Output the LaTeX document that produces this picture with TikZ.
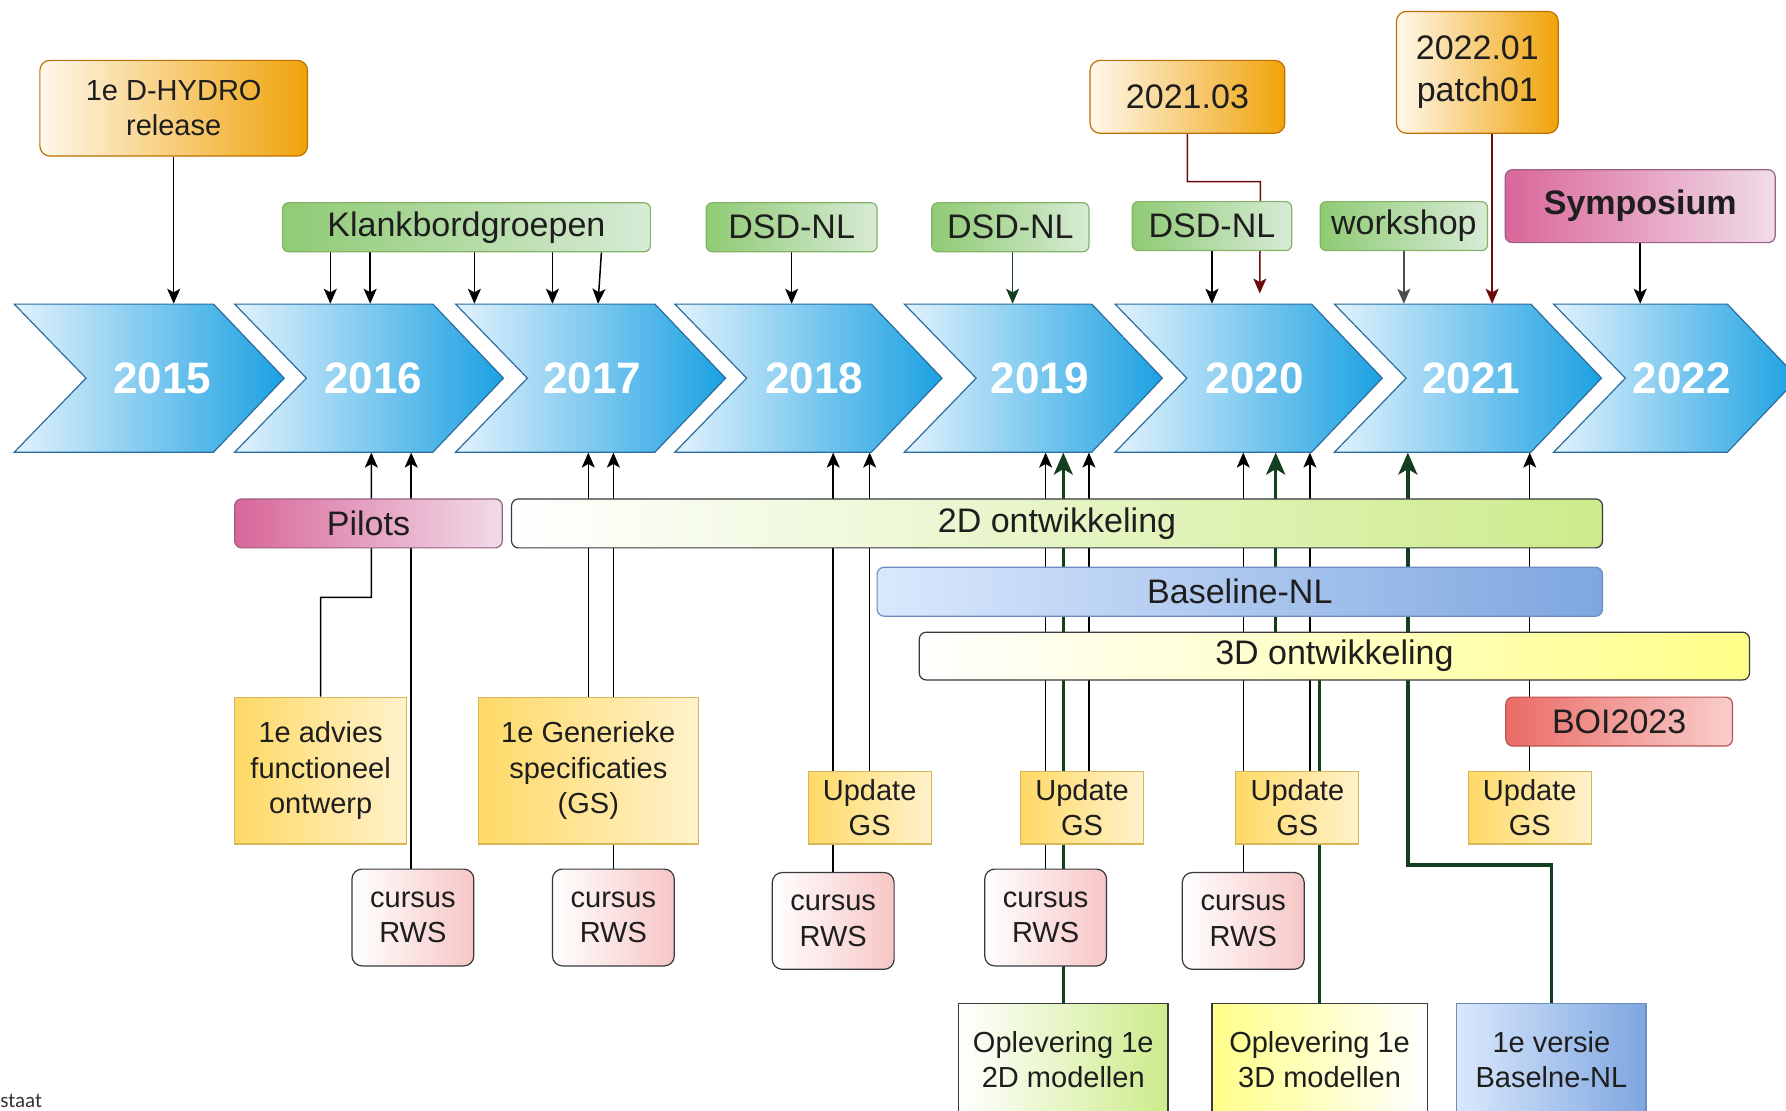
\documentclass[tikz,border=0pt]{standalone}
\usepackage{fontspec}
\setmainfont{Liberation Sans}
\newfontfamily\notefont{Carlito}
\usetikzlibrary{arrows.meta,backgrounds,calc}
\definecolor{txt}{HTML}{1E1E1E}
\definecolor{chevL}{HTML}{E2F2FC}
\definecolor{chevR}{HTML}{1BA1E2}
\definecolor{chevB}{HTML}{2B6D9E}
\definecolor{orngL}{HTML}{FFF8EC}
\definecolor{orngR}{HTML}{F0A30A}
\definecolor{orngB}{HTML}{BD7000}
\definecolor{grnL}{HTML}{8FCB74}
\definecolor{grnR}{HTML}{D8EBD6}
\definecolor{grnB}{HTML}{82B366}
\definecolor{pinkL}{HTML}{D9669A}
\definecolor{pinkR}{HTML}{F1DCE8}
\definecolor{pinkB}{HTML}{996185}
\definecolor{limeR}{HTML}{CDEB8B}
\definecolor{blueL}{HTML}{DAE8FC}
\definecolor{blueR}{HTML}{7EA6E0}
\definecolor{blueB}{HTML}{6C8EBF}
\definecolor{lemon}{HTML}{FFFF88}
\definecolor{redL}{HTML}{EA6B66}
\definecolor{redR}{HTML}{F8CECC}
\definecolor{redB}{HTML}{B85450}
\definecolor{ylwL}{HTML}{FFD966}
\definecolor{ylwR}{HTML}{FFF2CC}
\definecolor{ylwB}{HTML}{D6B656}
\definecolor{rose}{HTML}{F7C6C6}
\definecolor{dark}{HTML}{36393D}
\definecolor{dkgreen}{HTML}{12401F}
\definecolor{dkred}{HTML}{6E0A0A}
\tikzset{
  box/.style={rectangle,inner sep=0pt,align=center,text=txt,line width=0.6pt},
  big/.style={font=\fontsize{17}{20}\selectfont},
  sml/.style={font=\fontsize{14.5}{17.6}\selectfont},
  rel/.style={box,sml,rounded corners=5pt,draw=orngB,left color=orngL,right color=orngR},
  grp/.style={box,big,rounded corners=3pt,draw=grnB,left color=grnL,right color=grnR,minimum height=0.86cm},
  bar/.style={box,big,rounded corners=3.5pt,minimum height=0.86cm},
  gsbox/.style={box,sml,draw=ylwB,left color=ylwL,right color=ylwR},
  upd/.style={gsbox,minimum width=2.16cm,minimum height=1.28cm},
  crs/.style={box,sml,rounded corners=5pt,draw=dark,left color=white,right color=rose,
    minimum width=2.14cm,minimum height=1.7cm},
  res/.style={box,sml,draw=dark,minimum height=1.96cm},
  chev/.style={draw=chevB,line width=0.6pt,left color=chevL,right color=chevR},
  yr/.style={inner sep=0pt,minimum width=2cm,minimum height=2.6cm,text=white,
    font=\fontsize{22}{26}\selectfont\bfseries},
  ln/.style={draw=black,line width=0.75pt,-{Stealth[length=7.5pt,width=6.5pt,inset=1.8pt]}},
  rln/.style={ln,draw=dkred},
  gln/.style={draw=dkgreen,line width=1.7pt,-{Stealth[length=11pt,width=9.5pt,inset=2.8pt]}},
}
\begin{document}
\begin{tikzpicture}[x=0.02cm,y=-0.02cm]
  \useasboundingbox (0,0) rectangle (1568,975);

  % releases and events above the timeline
  \node[rel,minimum width=4.7cm,minimum height=1.68cm] (dhydro) at (152.5,95) {1e D-HYDRO\\release};
  \node[rel,big,minimum width=3.42cm,minimum height=1.28cm] (r2103) at (1042.5,85) {2021.03};
  \node[rel,font=\fontsize{17}{21}\selectfont,minimum width=2.84cm,minimum height=2.14cm] (r2201) at (1297,63.5) {2022.01\\patch01};
  \node[bar,draw=pinkB,left color=pinkL,right color=pinkR,minimum width=4.74cm,minimum height=1.28cm,
    font=\fontsize{17}{20}\selectfont\bfseries] (symp) at (1440,181) {Symposium};
  \node[grp,minimum width=6.46cm] (kbg) at (409.5,199.5) {Klankbordgroepen};
  \node[grp,minimum width=3cm] (dsd18) at (695,199.5) {DSD-NL};
  \node[grp,minimum width=2.76cm] (dsd19) at (887,199.5) {DSD-NL};
  \node[grp,minimum width=2.8cm] (dsd20) at (1064,198.5) {DSD-NL};
  \node[grp,minimum width=2.94cm] (wshop) at (1232.5,198.5) {workshop};

  % timeline
  \path[chev] (12.5,267) -- ++(175,0) -- ++(62,65) -- ++(-62,65) -- ++(-175,0) -- ++(63,-65) -- cycle;
  \path[chev] (206,267) -- ++(174,0) -- ++(62,65) -- ++(-62,65) -- ++(-174,0) -- ++(63,-65) -- cycle;
  \path[chev] (400,267) -- ++(175,0) -- ++(62,65) -- ++(-62,65) -- ++(-175,0) -- ++(63,-65) -- cycle;
  \path[chev] (592.5,267) -- ++(172.5,0) -- ++(62,65) -- ++(-62,65) -- ++(-172.5,0) -- ++(63,-65) -- cycle;
  \path[chev] (794,267) -- ++(164.5,0) -- ++(62,65) -- ++(-62,65) -- ++(-164.5,0) -- ++(63,-65) -- cycle;
  \path[chev] (979,267) -- ++(172.5,0) -- ++(62,65) -- ++(-62,65) -- ++(-172.5,0) -- ++(63,-65) -- cycle;
  \path[chev] (1171.5,267) -- ++(172.5,0) -- ++(62,65) -- ++(-62,65) -- ++(-172.5,0) -- ++(63,-65) -- cycle;
  \path[chev] (1364,267) -- ++(152.5,0) -- ++(62,65) -- ++(-62,65) -- ++(-152.5,0) -- ++(63,-65) -- cycle;
  \node[yr] (y2015) at (142.5,332) {2015};
  \node[yr] (y2016) at (327.5,332) {2016};
  \node[yr] (y2017) at (520,332) {2017};
  \node[yr] (y2018) at (715,332) {2018};
  \node[yr] (y2019) at (913,332) {2019};
  \node[yr] (y2020) at (1101.5,332) {2020};
  \node[yr] (y2021) at (1291.5,332) {2021};
  \node[yr] (y2022) at (1476.5,332) {2022};

  % tracks
  \node[bar,draw=pinkB,left color=pinkL,right color=pinkR,minimum width=4.7cm] (pilots) at (323.5,459.5) {Pilots};
  \node[bar,draw=dark,left color=white,right color=limeR,minimum width=19.16cm] (dev2d) at (928,459.5) {2D ontwikkeling};
  \node[bar,draw=blueB,left color=blueL,right color=blueR,minimum width=12.74cm] (bline) at (1088.5,519.5) {Baseline-NL};
  \node[bar,draw=dark,left color=white,right color=lemon,minimum width=14.58cm,minimum height=0.84cm] (dev3d) at (1171.5,576) {3D ontwikkeling};
  \node[bar,draw=redB,left color=redL,right color=redR,minimum width=3.98cm] (boi) at (1421.5,633.5) {BOI2023};

  % specifications
  \node[gsbox,minimum width=3.02cm,minimum height=2.58cm] (advies) at (281.5,676.5) {1e advies\\functioneel\\ontwerp};
  \node[gsbox,minimum width=3.86cm,minimum height=2.58cm] (gs) at (516.5,676.5) {1e Generieke\\specificaties\\(GS)};
  \node[upd] (upd18) at (763.5,709) {Update\\GS};
  \node[upd] (upd19) at (950,709) {Update\\GS};
  \node[upd] (upd20) at (1139,709) {Update\\GS};
  \node[upd] (upd21) at (1343,709) {Update\\GS};

  % courses
  \node[crs] (c1) at (362.5,805.5) {cursus\\RWS};
  \node[crs] (c2) at (538.5,805.5) {cursus\\RWS};
  \node[crs] (c3) at (731.5,808.5) {cursus\\RWS};
  \node[crs] (c4) at (918,805.5) {cursus\\RWS};
  \node[crs] (c5) at (1091.5,808.5) {cursus\\RWS};

  % deliverables
  \node[res,left color=white,right color=limeR,minimum width=3.68cm] (op2d) at (933.5,930) {Oplevering 1e\\2D modellen};
  \node[res,left color=lemon,right color=white,minimum width=3.78cm] (op3d) at (1158.5,930) {Oplevering 1e\\3D modellen};
  \node[res,draw=blueB,left color=blueL,right color=blueR,minimum width=3.32cm] (v1bl) at (1362,930) {1e versie\\Baselne-NL};
  \node[anchor=base west,inner sep=0pt,text=black!80,font=\notefont\fontsize{10.5}{12}\selectfont] (note) at (0,972) {staat};

  \begin{scope}[on background layer]
    % down onto the timeline
    \draw[ln] (dhydro) -- (dhydro |- y2015.north);
    \draw[ln] (kbg.south -| 290,0) -- (y2016.north -| 290,0);
    \draw[ln] (kbg.south -| 325,0) -- (y2016.north -| 325,0);
    \draw[ln] (kbg.south -| 416.5,0) -- (y2017.north -| 416.5,0);
    \draw[ln] (kbg.south -| 485,0) -- (y2017.north -| 485,0);
    \draw[ln] (kbg.south -| 528,0) -- (y2017.north -| 525,0);
    \draw[ln] (dsd18) -- (dsd18 |- y2018.north);
    \draw[ln,draw=dkgreen] (dsd19.south -| 889,0) -- (y2019.north -| 889,0);
    \draw[ln] (dsd20) -- (dsd20 |- y2020.north);
    \draw[ln,draw=black!70] (wshop) -- (wshop |- y2021.north);
    \draw[ln] (symp) -- (symp |- y2022.north);
    \draw[rln] (r2103.south) |- ($(dsd20.north east)+(-28,-17)$) -- ($(y2020.north)+(4.5,-9)$);
    \draw[rln] (r2201.south -| 1310,0) -- (y2021.north -| 1310,0);
    % up onto the timeline
    \draw[ln] (advies.north) |- ($(pilots.south)+(2.5,43)$) -- (y2016.south -| 326,0);
    \draw[ln] (c1.north -| 361,0) -- (y2016.south -| 361,0);
    \draw[ln] (gs) -- (gs |- y2017.south);
    \draw[ln] (c2) -- (c2 |- y2017.south);
    \draw[ln] (c3) -- (c3 |- y2018.south);
    \draw[ln] (upd18) -- (upd18 |- y2018.south);
    \draw[ln] (c4) -- (c4 |- y2019.south);
    \draw[ln] (upd19.north -| 956,0) -- (y2019.south -| 956,0);
    \draw[gln] (op2d) -- (op2d |- y2019.south);
    \draw[ln] (c5) -- (c5 |- y2020.south);
    \draw[ln] (upd20.north -| 1150,0) -- (y2020.south -| 1150,0);
    \draw[gln] (op3d.north) -- (op3d |- dev3d) -| (y2020.south -| 1120,0);
    \draw[gln] (v1bl.north) -- ++(0,-121) -| (y2021.south -| 1236,0);
    \draw[ln] (upd21) -- (upd21 |- y2021.south);
  \end{scope}
\end{tikzpicture}
\end{document}
